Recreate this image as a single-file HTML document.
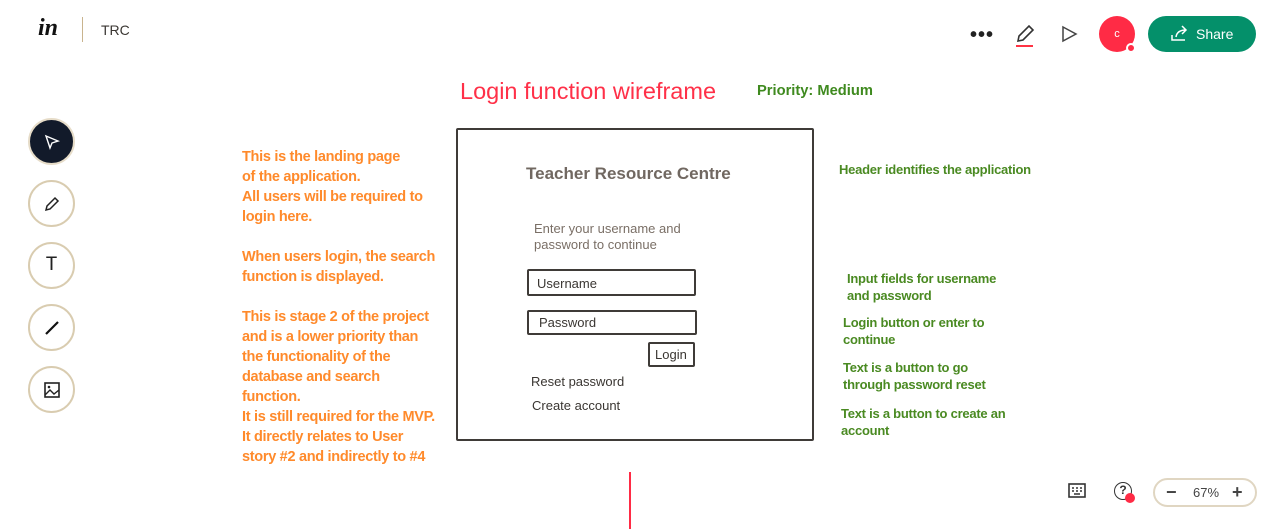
<!DOCTYPE html>
<html><head><meta charset="utf-8"><style>
*{margin:0;padding:0;box-sizing:border-box}
body{width:1276px;height:529px;background:#fff;position:relative;overflow:hidden;font-family:"Liberation Sans",sans-serif}
.a{position:absolute;white-space:nowrap}
.o{color:#ff8a2b;font-size:14.5px;font-weight:bold;letter-spacing:-0.3px}
.g{color:#4a8a22;font-size:13px;font-weight:bold;letter-spacing:-0.25px}
.w{color:#6b6259}
.tool{position:absolute;left:28px;width:47px;height:47px;border-radius:50%;border:2px solid #d9ccb0;background:#fff;display:flex;align-items:center;justify-content:center}
.box{position:absolute;border:2.5px solid #3f3b38;border-radius:2px}
</style></head><body>
<div class="a" style="left:38px;top:15px;font:italic bold 24px 'Liberation Serif',serif;color:#111">in</div>
<div class="a" style="left:82px;top:17px;width:1px;height:25px;background:#c9b48e"></div>
<div class="a" style="left:101px;top:22px;font-size:14px;color:#3a3632">TRC</div>
<div class="a" style="left:970px;top:24px;font-size:20px;color:#222;letter-spacing:1px;font-weight:bold">•••</div>
<svg class="a" style="left:1014px;top:23px" width="22" height="24"><path d="M4 18 L5 13 L15 3 L19 7 L9 17 Z" fill="none" stroke="#333" stroke-width="1.6"/><rect x="2" y="22" width="17" height="2" fill="#ff3344"/></svg>
<svg class="a" style="left:1061px;top:25px" width="18" height="18"><path d="M2 2 L15 9 L2 16 Z" fill="none" stroke="#444" stroke-width="1.5"/></svg>
<div class="a" style="left:1099px;top:16px;width:36px;height:36px;border-radius:50%;background:#ff2b45;color:#fff;font-size:11px;text-align:center;line-height:36px">c</div>
<div class="a" style="left:1126px;top:43px;width:10px;height:10px;border-radius:50%;background:#ff2b45;border:2px solid #fff"></div>
<div class="a" style="left:1148px;top:16px;width:108px;height:36px;border-radius:18px;background:#04906a;color:#fff;font-size:14px;line-height:36px;padding-left:48px">Share</div>
<svg class="a" style="left:1170px;top:25px" width="20" height="18"><path d="M2 10 V15 H15 M6 12 Q7 5 16 5 M12 1 L16 5 L12 9" fill="none" stroke="#fff" stroke-width="1.5"/></svg>

<div class="tool" style="top:118px;background:#121a2a;border-color:#e6dcc8"><svg width="18" height="18"><path d="M3 3 L15 8 L9 10 L7 15 Z" fill="none" stroke="#fff" stroke-width="1.4"/></svg></div>
<div class="tool" style="top:180px"><svg width="18" height="18"><path d="M3 15 L4 11 L12 3 L15 6 L7 14 Z" fill="none" stroke="#222" stroke-width="1.5"/></svg></div>
<div class="tool" style="top:242px;font:20px 'Liberation Mono',monospace;color:#222">T</div>
<div class="tool" style="top:304px"><svg width="18" height="18"><path d="M3 15 L15 3" stroke="#111" stroke-width="2.2"/></svg></div>
<div class="tool" style="top:366px"><svg width="18" height="18"><rect x="2" y="2" width="14" height="14" fill="none" stroke="#222" stroke-width="1.6"/><path d="M2 14 L7 9 L11 13 L16 9" fill="none" stroke="#222" stroke-width="1.4"/><circle cx="6" cy="6" r="1.3" fill="#222"/></svg></div>

<div class="a" style="left:460px;top:78px;font-size:23.5px;color:#ff3048">Login function wireframe</div>
<div class="a" style="left:757px;top:83px;font-size:14.7px;font-weight:bold;color:#3f8a1f">Priority: Medium</div>

<div class="a o" style="left:242px;top:147px;line-height:20px">This is the landing page<br>of the application.<br>All users will be required to<br>login here.<br><br>When users login, the search<br>function is displayed.<br><br>This is stage 2 of the project<br>and is a lower priority than<br>the functionality of the<br>database and search<br>function.<br>It is still required for the MVP.<br>It directly relates to User<br>story #2 and indirectly to #4</div>

<div class="box" style="left:456px;top:128px;width:358px;height:313px"></div>
<div class="a w" style="left:526px;top:164px;font-size:17px;font-weight:bold;color:#716861">Teacher Resource Centre</div>
<div class="a w" style="left:534px;top:221px;font-size:13px;line-height:16px;color:#7a6f66">Enter your username and<br>password to continue</div>
<div class="box" style="left:527px;top:269px;width:169px;height:27px"></div>
<div class="a" style="left:537px;top:276px;font-size:13px;color:#3a3632">Username</div>
<div class="box" style="left:527px;top:310px;width:170px;height:25px"></div>
<div class="a" style="left:539px;top:315px;font-size:13px;color:#3a3632">Password</div>
<div class="box" style="left:648px;top:342px;width:47px;height:25px"></div>
<div class="a" style="left:655px;top:347px;font-size:13px;color:#3a3632">Login</div>
<div class="a" style="left:531px;top:374px;font-size:13px;color:#3a3632">Reset password</div>
<div class="a" style="left:532px;top:398px;font-size:13px;color:#3a3632">Create account</div>

<div class="a g" style="left:839px;top:162px">Header identifies the application</div>
<div class="a g" style="left:847px;top:270px;line-height:17px">Input fields for username<br>and password</div>
<div class="a g" style="left:843px;top:314px;line-height:17px">Login button or enter to<br>continue</div>
<div class="a g" style="left:843px;top:359px;line-height:17px">Text is a button to go<br>through password reset</div>
<div class="a g" style="left:841px;top:405px;line-height:17px">Text is a button to create an<br>account</div>

<div class="a" style="left:629px;top:472px;width:2px;height:57px;background:#ff2b45"></div>

<svg class="a" style="left:1068px;top:483px" width="18" height="16"><rect x="1" y="1" width="16" height="13" fill="none" stroke="#333" stroke-width="1.6"/><path d="M4 5h2M8 5h2M12 5h2M4 8h2M8 8h2M12 8h2M6 11h6" stroke="#333" stroke-width="1.4"/></svg>
<div class="a" style="left:1114px;top:482px;width:18px;height:18px;border-radius:50%;border:1.8px solid #333;font-size:12px;font-weight:bold;text-align:center;line-height:15px;color:#333">?</div>
<div class="a" style="left:1125px;top:493px;width:10px;height:10px;border-radius:50%;background:#ff2b45"></div>
<div class="a" style="left:1153px;top:478px;width:104px;height:29px;border:2px solid #e0d6c2;border-radius:15px;font-size:13px;color:#444;line-height:25px">
<span style="position:absolute;left:11px;font-size:18px;font-weight:bold">−</span><span style="position:absolute;left:38px">67%</span><span style="position:absolute;left:77px;font-size:18px;font-weight:bold">+</span></div>
</body></html>
